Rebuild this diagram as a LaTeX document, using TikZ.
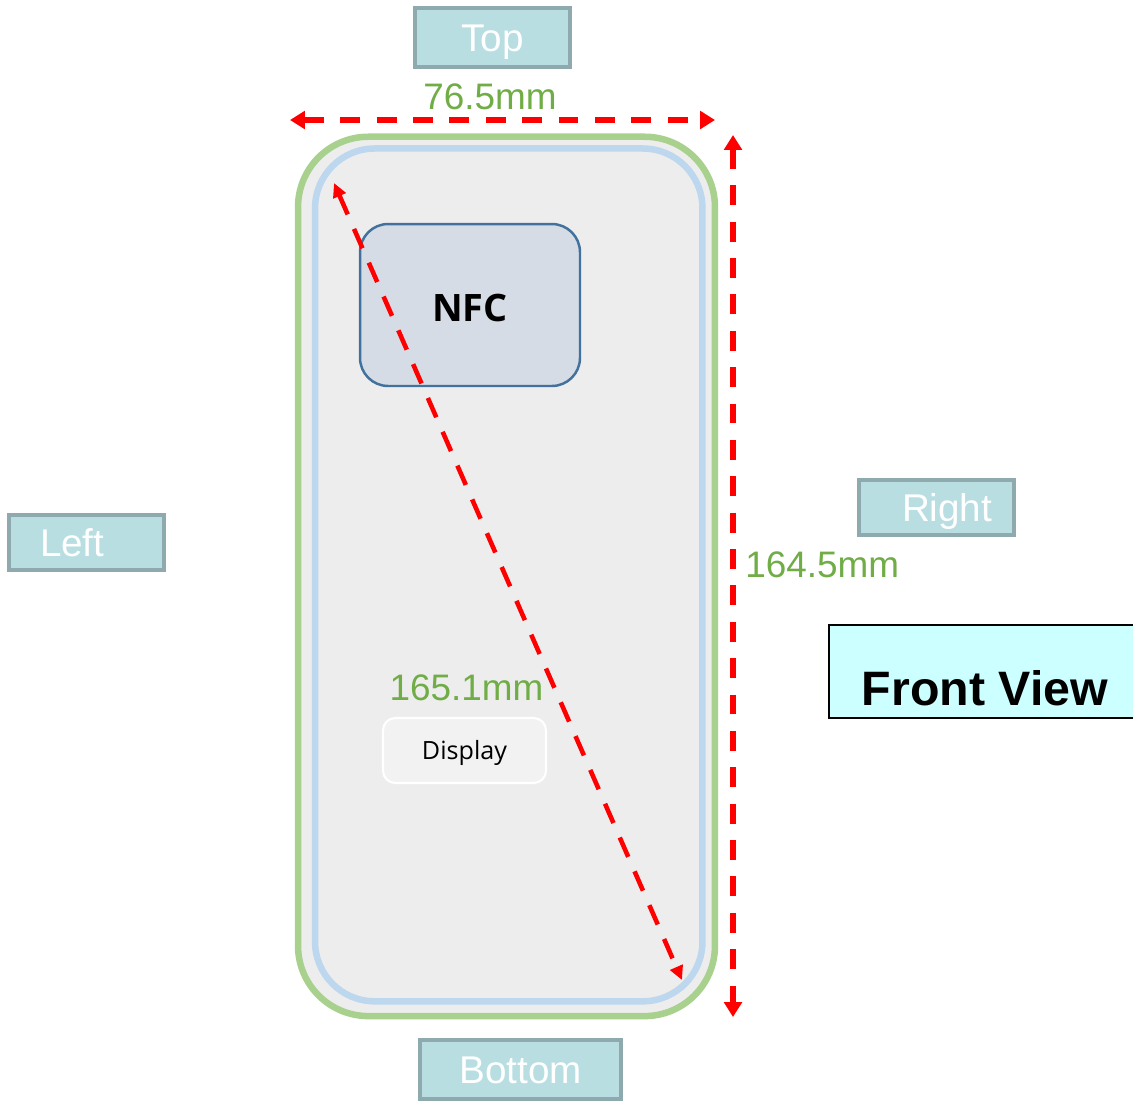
\documentclass[tikz,border=0pt]{standalone}
\usepackage{fontspec}
\setmainfont{Liberation Sans}
\newfontfamily\osans{Open Sans}
\usetikzlibrary{arrows.meta}
\definecolor{tealfill}{HTML}{B8DEE2}
\definecolor{tealedge}{HTML}{8FAAAF}
\definecolor{dimgreen}{HTML}{70AD47}
\definecolor{bodygreen}{HTML}{A9D18E}
\definecolor{bodyfill}{HTML}{EDEDED}
\definecolor{screenblue}{HTML}{BDD7EE}
\definecolor{nfcfill}{HTML}{D6DCE5}
\definecolor{nfcedge}{HTML}{41719C}
\definecolor{viewfill}{HTML}{CCFFFF}
\definecolor{dispfill}{HTML}{F2F2F2}
\begin{document}
\begin{tikzpicture}[x=0.02cm,y=-0.02cm,
  sidebox/.style={draw=tealedge, fill=tealfill, line width=1.8pt, text=white,
    minimum width=3.1cm, minimum height=1.14cm, inner sep=0pt,
    font=\fontsize{22}{26}\selectfont, text height=15.75pt, text depth=0pt},
  dimtext/.style={text=dimgreen, font=\fontsize{21}{25}\selectfont, inner sep=0pt},
  dimarrow/.style={draw=red, line width=3.5pt, dash pattern=on 11.3pt off 9.4pt,
    {Triangle[length=8.5pt,width=10pt]}-{Triangle[length=8.5pt,width=10pt]}},
  diagarrow/.style={draw=red, line width=2.6pt, dash pattern=on 12pt off 9pt,
    {Triangle[length=8pt,width=7.5pt]}-{Triangle[length=8pt,width=7.5pt]}}
]
\fill[white] (0,0) rectangle (1133,1100);
\useasboundingbox (0,0) rectangle (1133,1100);

% phone body
\node[draw=bodygreen, fill=bodyfill, line width=3.7pt, rounded corners=40pt,
  minimum width=8.34cm, minimum height=17.59cm, inner sep=0pt] (body) at (506.5,576.4) {};
\node[draw=screenblue, line width=3.7pt, rounded corners=34pt,
  minimum width=7.75cm, minimum height=17.06cm, inner sep=0pt] (screen) at (508.75,574.9) {};

% NFC
\node[draw=nfcedge, fill=nfcfill, line width=1.4pt, rounded corners=16pt,
  minimum width=4.4cm, minimum height=3.24cm, inner sep=0pt,
  font=\osans\bfseries\fontsize{21.5}{25}\selectfont, text height=19.3pt, text depth=0pt] (nfc) at (470,305) {NFC};

% Display
\node[draw=white, fill=dispfill, line width=1.2pt, rounded corners=7pt,
  minimum width=3.26cm, minimum height=1.3cm, inner sep=0pt,
  font=\osans\fontsize{14.3}{17}\selectfont, text height=10.2pt, text depth=0pt] (disp) at (464.5,750.5) {Display};

% side labels
\node[sidebox, minimum height=1.18cm] (top) at (492.5,37.5) {Top};
\node[sidebox, minimum height=1.1cm, inner xsep=0.62cm, text width=1.86cm, align=left] (left) at (86.5,542.5) {Left};
\node[sidebox, minimum height=1.1cm, inner xsep=0.86cm, text width=1.38cm, align=left] (right) at (936.5,507.5) {Right};
\node[sidebox, minimum width=4.02cm, minimum height=1.18cm] (bottom) at (520.5,1069.5) {Bottom};

% front view
\node[draw=black, fill=viewfill, line width=1.2pt, minimum width=6.24cm, minimum height=1.86cm,
  inner sep=0pt, font=\bfseries\fontsize{27.5}{30}\selectfont, text height=1.34cm, text depth=0pt]
  (front) at (985,671.5) {Front View};

% dimension texts
\node[dimtext, anchor=base] (wtext) at (490,109) {76.5mm};
\node[dimtext, anchor=base west] (htext) at (745,577) {164.5mm};
\node[dimtext, anchor=base] (dtext) at (466.5,700) {165.1mm};

% dimension arrows
\coordinate (wL) at (290,120);
\coordinate (wR) at (715,120);
\coordinate (hT) at (733,135);
\coordinate (hB) at (733,1017);
\coordinate (dA) at (334,183);
\coordinate (dB) at (682,980);
\draw[dimarrow] (wL) -- (wR);
\draw[dimarrow] (hT) -- (hB);
\draw[diagarrow] (dA) -- (dB);
\end{tikzpicture}
\end{document}
